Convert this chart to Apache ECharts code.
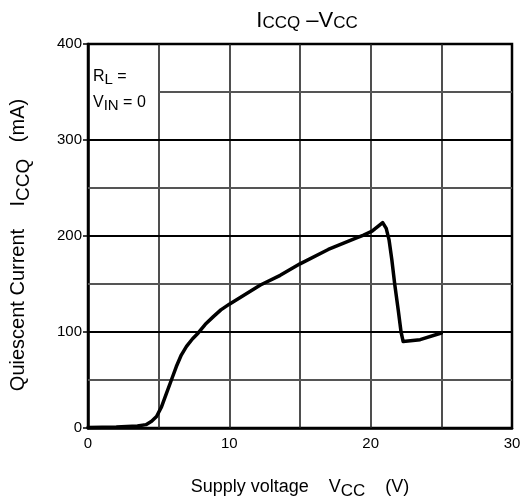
<!DOCTYPE html>
<html><head><meta charset="utf-8">
<script src="https://cdn.jsdelivr.net/npm/echarts@6/dist/echarts.min.js"></script>
<style>html,body{margin:0;padding:0;background:#fff}#c{width:525px;height:500px}</style>
</head><body><div id="c"></div>
<script>
// Supply voltage (V) and quiescent current (mA)
var vcc = [0, 2, 3.5, 4.1, 4.5, 4.85, 5.2, 5.55, 5.9, 6.25, 6.6, 6.97, 7.4, 7.8, 8.3, 8.87, 9.4, 10, 11, 12.2, 13.6, 15, 17, 19, 19.5, 20.1, 20.85, 21.1, 21.3, 21.5, 21.7, 21.95, 22.15, 22.3, 23.5, 25];
var iccq = [0.5, 1, 2, 3.5, 7, 12, 22, 36, 50, 64, 76, 85, 93, 99, 108, 116, 123, 129, 138, 149, 159, 171, 186, 198, 201, 205, 214, 208, 196, 175, 150, 123, 100, 90, 92, 99];
var xTicks = [0, 10, 20, 30];
var yTicks = [0, 100, 200, 300, 400];
var gridXs = [5, 10, 15, 20, 25];
var gridYs = [50, 100, 150, 200, 250, 300, 350];

var FONT = 'Liberation Sans, Arial, sans-serif';
var pts = vcc.map(function (v, i) { return [v, iccq[i]]; });

var gl = [];
gridXs.forEach(function (x) {
  gl.push([{ coord: [x, 0], lineStyle: { color: '#222', width: 1.6, type: 'solid' } }, { coord: [x, 400] }]);
});
gridYs.forEach(function (y) {
  var major = (y % 100 === 0);
  var x0 = (y === 350) ? 5 : 0;
  gl.push([{ coord: [x0, y], lineStyle: { color: major ? '#000' : '#555', width: major ? 2 : 1.8, type: 'solid' } }, { coord: [30, y] }]);
});

var xsub = { fontSize: 17, fontFamily: FONT, color: '#000', padding: [9, 0, 0, 0] };
var xmain = { fontSize: 18, fontFamily: FONT, color: '#000' };
var ysub = { fontSize: 19, fontFamily: FONT, color: '#000', padding: [10, 0, 0, 0] };
var ymain = { fontSize: 20, fontFamily: FONT, color: '#000' };
var chart = echarts.init(document.getElementById('c'), null, { renderer: 'canvas' });
chart.setOption({
  animation: false,
  backgroundColor: '#fff',
  title: {
    text: '{m|I}{s|CCQ}{m| –V}{s|CC}',
    left: 302, top: 5, textAlign: 'center',
    textStyle: { fontWeight: 'normal', rich: { m: { fontSize: 22, fontFamily: FONT, color: '#000' }, s: { fontSize: 17, fontFamily: FONT, color: '#000', padding: [5, 0, 0, 0] } } }
  },
  grid: { left: 88, right: 13, top: 44, bottom: 72, show: true, borderColor: '#000', borderWidth: 2.5, backgroundColor: 'transparent', outerBoundsMode: 'none', containLabel: false },
  xAxis: {
    type: 'value', min: 0, max: 30, interval: 10,
    axisLine: { lineStyle: { color: '#000', width: 2.5 } },
    axisTick: { show: false }, splitLine: { show: false },
    axisLabel: { color: '#000', fontSize: 15, fontFamily: FONT, margin: 8 },
    name: '{m|Supply voltage    V}{s|CC}{m|    (V)}', nameLocation: 'middle', nameGap: 46,
    nameTextStyle: { rich: { m: xmain, s: xsub } }
  },
  yAxis: {
    type: 'value', min: 0, max: 400, interval: 100,
    axisLine: { lineStyle: { color: '#000', width: 2.5 } },
    axisTick: { show: true, inside: false, length: 5, lineStyle: { color: '#000', width: 1.5 } }, splitLine: { show: false },
    axisLabel: { color: '#000', fontSize: 15, fontFamily: FONT, margin: 6 },
    name: '{m|Quiescent Current    I}{s|CCQ}{m|   (mA)}', nameLocation: 'middle', nameGap: 55,
    nameTextStyle: { padding: [0, 18, 0, 0], rich: { m: ymain, s: ysub } }
  },
  graphic: [
    { type: 'text', left: 93, top: 69, style: { text: '{m|R}{s|L}{m| =}', rich: { m: { fontSize: 16, fontFamily: FONT, fill: '#000' }, s: { fontSize: 15, fontFamily: FONT, fill: '#000', padding: [6, 0, 0, 0] } } } },
    { type: 'text', left: 93, top: 95, style: { text: '{m|V}{s|IN}{m| = 0}', rich: { m: { fontSize: 16, fontFamily: FONT, fill: '#000' }, s: { fontSize: 15, fontFamily: FONT, fill: '#000', padding: [6, 0, 0, 0] } } } }
  ],
  series: [
    { type: 'line', data: [], markLine: { silent: true, symbol: 'none', label: { show: false }, data: gl, animation: false }, z: 1 },
    { type: 'line', data: pts, showSymbol: false, symbol: 'none', smooth: false, lineStyle: { color: '#000', width: 3.5, join: 'round', cap: 'round' }, z: 5 }
  ]
});
</script></body></html>
